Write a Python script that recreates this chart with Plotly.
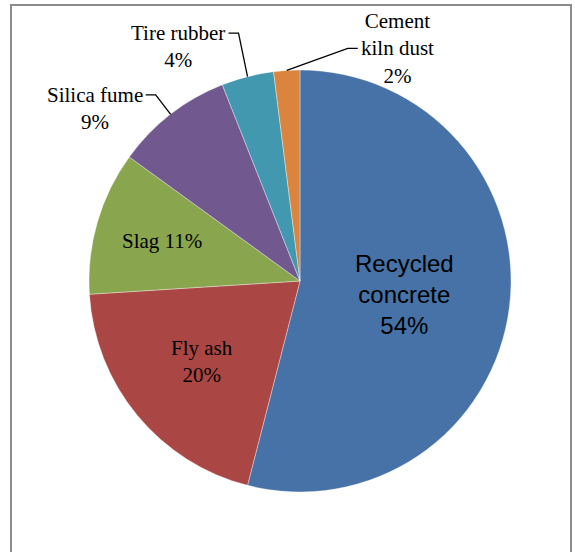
import math
import plotly.graph_objects as go

# Composition of recycled/waste materials used in concrete (percent)
materials = ["Recycled concrete", "Fly ash", "Slag", "Silica fume", "Tire rubber", "Cement kiln dust"]
shares = [54, 20, 11, 9, 4, 2]
slice_text = ["Recycled<br>concrete<br>54%", "Fly ash<br>20%", "Slag 11%",
              "Silica fume<br>9%", "Tire rubber<br>4%", "Cement<br>kiln dust<br>2%"]
colors = ["#4672A8", "#AA4643", "#89A54E", "#71588F", "#4198AF", "#DB843D"]

W, H = 575, 552
cx, cy, r = 300, 281, 211          # pie centre and radius in page pixels


def px(x):
    return x / W


def py(y):
    return 1 - y / H


fig = go.Figure(go.Pie(
    labels=materials,
    values=shares,
    textinfo="none",
    sort=False,
    direction="clockwise",
    rotation=0,
    marker=dict(colors=colors, line=dict(color="rgba(255,255,255,0.6)", width=0.6)),
    domain=dict(x=[px(cx - r), px(cx + r)], y=[py(cy + r), py(cy - r)]),
    showlegend=False,
    hoverinfo="label+percent",
))

# Mid angle of every slice (clockwise from 12 o'clock), from the data
total = sum(shares)
mid_angles = []
acc = 0
for v in shares:
    mid_angles.append(360 * (acc + v / 2) / total)
    acc += v


def polar(angle_deg, radius):
    a = math.radians(angle_deg)
    return cx + radius * math.sin(a), cy - radius * math.cos(a)


serif = dict(family="Liberation Serif", size=21, color="#000000")
sans = dict(family="Liberation Sans", size=24, color="#000000")

# inside labels: radius fraction; outside labels: (dx, dy) of label centre from the rim,
# then leader attachment (x offset of stub end from label centre, y offset of stub)
placement = [
    ("in", 0.50, None),
    ("in", 0.60, None),
    ("in", 0.68, None),
    ("out", (-76, -6), (51, -13.5)),
    ("out", (-70, -30), (51, -13.5)),
    ("out", (111, -22), (-40, 0)),
]
fonts = [sans, serif, serif, serif, serif, serif]

annotations = []
shapes = []
for txt, ang, (kind, p, lead), font in zip(slice_text, mid_angles, placement, fonts):
    if kind == "in":
        x, y = polar(ang, r * p)
    else:
        ex, ey = polar(ang, r)
        x, y = ex + p[0], ey + p[1]
        sx, sy = x + lead[0], y + lead[1]
        step = 10 if lead[0] > 0 else -10
        shapes.append(dict(type="path", xref="paper", yref="paper",
                           path=(f"M {px(sx)} {py(sy)} L {px(sx + step)} {py(sy)} "
                                 f"L {px(ex)} {py(ey)}"),
                           line=dict(color="#000000", width=1.3)))
    annotations.append(dict(x=px(x), y=py(y), xref="paper", yref="paper", text=txt,
                            xanchor="center", yanchor="middle", showarrow=False,
                            font=font, align="center"))

# chart-area frame
shapes.append(dict(type="rect", xref="paper", yref="paper",
                   x0=px(11), x1=px(571), y0=-0.02, y1=py(5),
                   line=dict(color="#8C8C8C", width=2), fillcolor="rgba(0,0,0,0)"))

fig.update_layout(
    width=W, height=H,
    margin=dict(l=0, r=0, t=0, b=0),
    paper_bgcolor="#FFFFFF",
    shapes=shapes,
    annotations=annotations,
)

fig.write_html("out.html")
